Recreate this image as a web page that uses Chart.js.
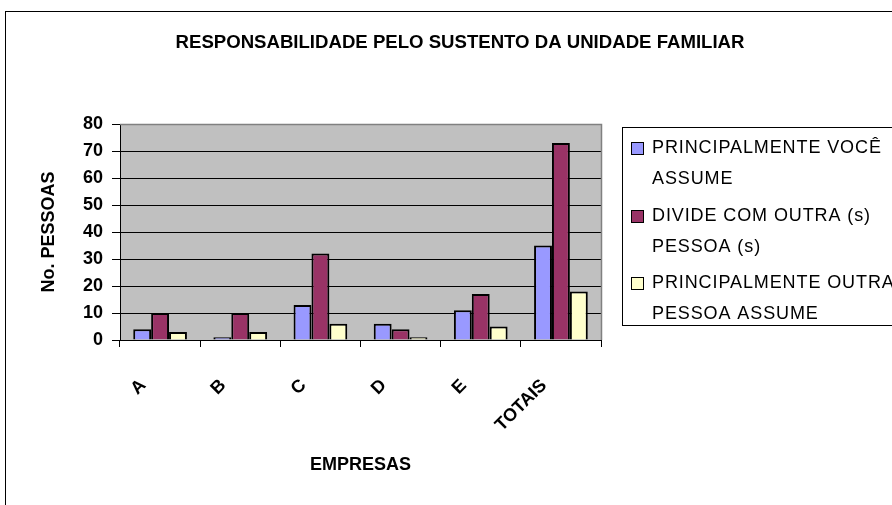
<!DOCTYPE html>
<html>
<head>
<meta charset="utf-8">
<title>Responsabilidade pelo sustento</title>
<script src="https://cdn.jsdelivr.net/npm/chart.js@4.4.1/dist/chart.umd.min.js"></script>
<style>
    html, body { margin: 0; padding: 0; background: #fff; }
    canvas { display: block; }
</style>
</head>
<body>
<canvas id="sustentoChart" width="892" height="505"></canvas>
<script>
// --- DADOS ---
const empresas = ['A', 'B', 'C', 'D', 'E', 'TOTAIS'];
const voceAssume = [4, 1, 13, 6, 11, 35];
const divideComOutra = [10, 10, 32, 4, 17, 73];
const outraAssume = [3, 3, 6, 1, 5, 18];
const yTicks = [0, 10, 20, 30, 40, 50, 60, 70, 80];

const titulo = 'RESPONSABILIDADE PELO SUSTENTO DA UNIDADE FAMILIAR';
// legenda quebrada em linhas, como no original
const legendaLinhas = [
    ['PRINCIPALMENTE VOCÊ', 'ASSUME'],
    ['DIVIDE COM OUTRA (s)', 'PESSOA (s)'],
    ['PRINCIPALMENTE OUTRA', 'PESSOA ASSUME']
];
const cores = ['#9999FF', '#993366', '#FFFFCC'];

const FONTE = "'Liberation Sans', Arial, sans-serif";

document.addEventListener('DOMContentLoaded', function() {

    // --- fundo, moldura externa, título e área do gráfico cinza ---
    const molduraPlugin = {
        id: 'moldura',
        beforeDraw(chart) {
            const ctx = chart.ctx;
            const a = chart.chartArea;
            ctx.save();
            ctx.fillStyle = '#fff';
            ctx.fillRect(0, 0, chart.width, chart.height);
            ctx.strokeStyle = '#000';
            ctx.lineWidth = 1;
            ctx.strokeRect(5.5, 11.5, 1000, 1000);
            ctx.fillStyle = '#C0C0C0';
            ctx.fillRect(a.left, a.top, a.right - a.left, a.bottom - a.top);
            // título centrado na moldura inteira (não só na área do gráfico)
            ctx.fillStyle = '#000';
            ctx.font = 'bold 18.6px ' + FONTE;
            ctx.textAlign = 'center';
            ctx.textBaseline = 'middle';
            ctx.fillText(titulo, 460, 43);
            ctx.restore();
        },
        afterDraw(chart) {
            const ctx = chart.ctx;
            const a = chart.chartArea;
            ctx.save();
            ctx.strokeStyle = '#808080';
            ctx.lineWidth = 1.5;
            ctx.beginPath();
            ctx.moveTo(a.left, a.top + 0.5);
            ctx.lineTo(a.right + 0.5, a.top + 0.5);
            ctx.lineTo(a.right + 0.5, a.bottom);
            ctx.stroke();
            ctx.restore();
        }
    };

    // --- legenda desenhada à mão (texto em duas linhas) ---
    const legendaPlugin = {
        id: 'legendaExcel',
        afterDraw(chart) {
            const ctx = chart.ctx;
            const topos = [148, 216, 283];
            ctx.save();
            ctx.strokeStyle = '#000';
            ctx.lineWidth = 1;
            ctx.strokeRect(622.5, 127.5, 400, 198);
            ctx.font = '18px ' + FONTE;
            ctx.letterSpacing = '0.9px';
            ctx.textBaseline = 'middle';
            chart.data.datasets.forEach((ds, i) => {
                const y0 = topos[i];
                ctx.fillStyle = ds.backgroundColor;
                ctx.fillRect(631, y0 - 6, 12, 12);
                ctx.strokeRect(631.5, y0 - 5.5, 12, 12);
                ctx.fillStyle = '#000';
                legendaLinhas[i].forEach((linha, j) => {
                    ctx.fillText(linha, 652, y0 + j * 31);
                });
            });
            ctx.restore();
        }
    };

    const ctx = document.getElementById('sustentoChart').getContext('2d');
    new Chart(ctx, {
        type: 'bar',
        data: {
            labels: empresas,
            datasets: [
                { label: legendaLinhas[0].join(' '), data: voceAssume, backgroundColor: cores[0] },
                { label: legendaLinhas[1].join(' '), data: divideComOutra, backgroundColor: cores[1] },
                { label: legendaLinhas[2].join(' '), data: outraAssume, backgroundColor: cores[2] }
            ].map(ds => Object.assign(ds, {
                borderColor: '#000',
                borderWidth: 2,
                categoryPercentage: 0.67,
                barPercentage: 1.0
            }))
        },
        options: {
            responsive: false,
            animation: false,
            layout: { padding: { left: 0, top: 124, right: 291, bottom: 25 } },
            plugins: {
                legend: { display: false },
                tooltip: { enabled: false },
                title: { display: false }
            },
            scales: {
                x: {
                    afterFit(scale) { scale.height = 140; },
                    grid: { drawOnChartArea: false, drawTicks: true, tickLength: 7, color: '#000', offset: true },
                    border: { color: '#000', width: 1 },
                    ticks: {
                        autoSkip: false,
                        minRotation: 45,
                        maxRotation: 45,
                        labelOffset: -17,
                        padding: 28,
                        color: '#000',
                        font: { family: FONTE, size: 18, weight: 'bold' }
                    },
                    title: {
                        display: true,
                        text: 'EMPRESAS',
                        color: '#000',
                        font: { family: FONTE, size: 18, weight: 'bold' },
                        padding: { top: 0, bottom: 4 }
                    }
                },
                y: {
                    min: 0,
                    max: 80,
                    afterFit(scale) { scale.width = 120; },
                    afterBuildTicks(scale) { scale.ticks = yTicks.map(v => ({ value: v })); },
                    grid: {
                        color: c => (c.tick && c.tick.value === 80 ? '#808080' : '#000'),
                        tickColor: '#000',
                        tickLength: 8,
                        lineWidth: 1
                    },
                    border: { color: '#000', width: 1 },
                    ticks: {
                        padding: 9,
                        color: '#000',
                        font: { family: FONTE, size: 18, weight: 'bold' }
                    },
                    title: {
                        display: true,
                        text: 'No. PESSOAS',
                        color: '#000',
                        font: { family: FONTE, size: 18, weight: 'bold' },
                        padding: { top: 38, bottom: 0 }
                    }
                }
            }
        },
        plugins: [molduraPlugin, legendaPlugin]
    });
});
</script>
</body>
</html>
